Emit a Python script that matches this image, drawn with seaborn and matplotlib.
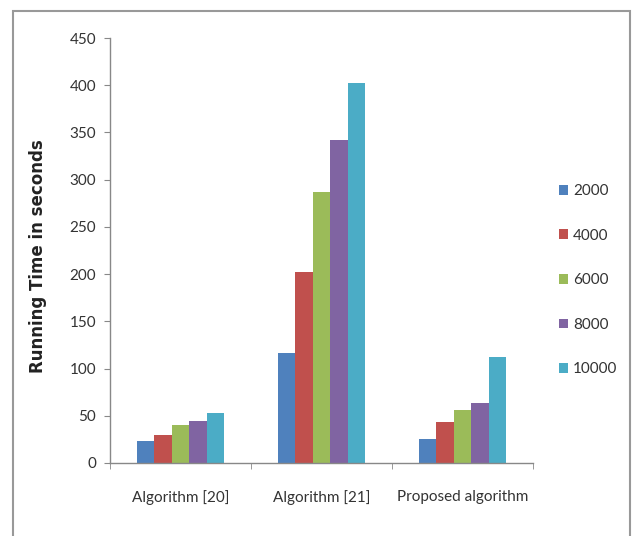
import matplotlib
matplotlib.use("Agg")
import matplotlib.pyplot as plt
import seaborn as sns
import pandas as pd
from matplotlib.patches import Rectangle
from matplotlib.ticker import FixedLocator

categories = ["Algorithm [20]", "Algorithm [21]", "Proposed algorithm"]
series = ["2000", "4000", "6000", "8000", "10000"]
values_2000 = [23, 117, 25]
values_4000 = [30, 202, 43]
values_6000 = [40, 287, 56]
values_8000 = [45, 342, 64]
values_10000 = [53, 402, 112]
colors = ["#4F81BD", "#C0504D", "#9BBB59", "#8064A2", "#4BACC6"]

all_vals = [values_2000, values_4000, values_6000, values_8000, values_10000]
rows = []
for s, vals in zip(series, all_vals):
    for c, v in zip(categories, vals):
        rows.append({"Algorithm": c, "Size": s, "Time": v})
df = pd.DataFrame(rows)

sns.set_style("white")
plt.rcParams['font.family'] = ['Lato', 'DejaVu Sans']

fig = plt.figure(figsize=(6.35, 5.36), dpi=100)
ax = fig.add_axes([110/635, 1-463/536, 423/635, 425/536])

sns.barplot(data=df, x="Algorithm", y="Time", hue="Size", hue_order=series,
            palette=colors, width=0.62, gap=0, saturation=1, ax=ax,
            edgecolor="none", linewidth=0)

ax.set_ylim(0, 450)
ax.set_yticks(range(0, 451, 50))
ax.set_xlim(-0.5, 2.5)
ax.set_xlabel("")
ax.set_ylabel("Running Time in seconds", fontsize=12, fontweight="bold",
              color="#222222", family="DejaVu Sans")
ax.yaxis.set_label_coords(47/635, 1-256/536, transform=fig.transFigure)

for side in ["top", "right"]:
    ax.spines[side].set_visible(False)
for side in ["left", "bottom"]:
    ax.spines[side].set_color("#888888")
    ax.spines[side].set_linewidth(1)

ax.tick_params(axis="y", which="major", left=True, length=4, color="#888888",
               labelsize=11, labelcolor="#333333", pad=6)
ax.tick_params(axis="x", which="major", bottom=False, labelsize=11,
               labelcolor="#333333", pad=16)
ax.xaxis.set_minor_locator(FixedLocator([-0.5, 0.5, 1.5, 2.5]))
ax.tick_params(axis="x", which="minor", bottom=True, length=4, color="#888888")

leg = ax.legend(loc="upper left", bbox_to_anchor=(553/635, 1-178/536),
                bbox_transform=fig.transFigure, frameon=False,
                fontsize=11, labelspacing=2.0, handlelength=0.6,
                handleheight=0.6, handletextpad=0.3, borderaxespad=0)
for t in leg.get_texts():
    t.set_color("#333333")

fig.patches.append(Rectangle((13/635, -10/536), 617/635, 535/536,
                             transform=fig.transFigure, fill=False,
                             edgecolor="#999999", linewidth=1.5))

fig.savefig("out.png", dpi=100)
